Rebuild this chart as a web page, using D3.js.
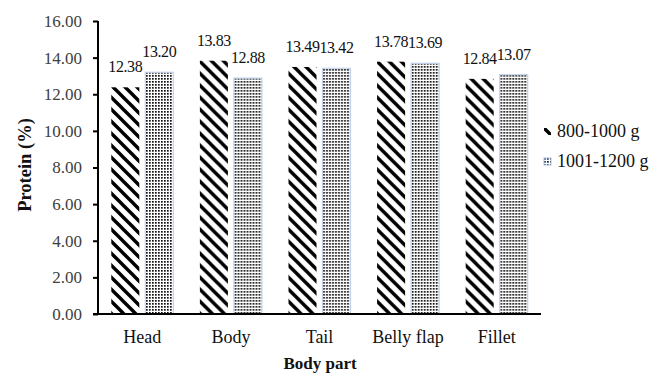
<!DOCTYPE html>
<html>
  <head>
    <title></title>
    <script src="https://cdnjs.cloudflare.com/ajax/libs/d3/7.8.5/d3.min.js"></script>
    <style type="text/css">
        html, body{
            padding: 0px;
            margin: 0px;
            background: #ffffff;
        }
        text{
            font-family: "Liberation Serif", "Times New Roman", serif;
        }
    </style>
  </head>
  <body>
    <div id="vis"></div>
    <script type="text/javascript">

        // data
        var categories = ["Head", "Body", "Tail", "Belly flap", "Fillet"]
        var series = ["800-1000 g", "1001-1200 g"]
        var small = [12.38, 13.83, 13.49, 13.78, 12.84]
        var large = [13.20, 12.88, 13.42, 13.69, 13.07]
        var yTicks = [0, 2, 4, 6, 8, 10, 12, 14, 16]

        var width = 668,
            height = 373

        var svg = d3.select("#vis").append("svg")
            .attr("width", width)
            .attr("height", height)

        // patterns
        var defs = svg.append("defs")

        var hatch = defs.append("pattern")
            .attr("id", "hatch")
            .attr("patternUnits", "userSpaceOnUse")
            .attr("width", 12)
            .attr("height", 12)
        hatch.append("rect").attr("width", 12).attr("height", 12).attr("fill", "#fff")
        hatch.append("path")
            .attr("d", "M-3,-3L15,15M-3,9L3,15M9,-3L15,3")
            .attr("stroke", "#000")
            .attr("stroke-width", 3.4)

        var dots = defs.append("pattern")
            .attr("id", "dots")
            .attr("patternUnits", "userSpaceOnUse")
            .attr("width", 3)
            .attr("height", 3)
        dots.append("rect").attr("width", 3).attr("height", 3).attr("fill", "#fff")
        dots.append("rect").attr("width", 1.7).attr("height", 1.7).attr("fill", "#111")

        var x = d3.scaleBand()
            .domain(categories)
            .range([98, 541])
            .paddingInner(0)
            .paddingOuter(0)

        var x1 = d3.scaleBand()
            .domain(series)
            .range([x.bandwidth() * 0.15, x.bandwidth() * 0.85])
            .paddingInner(0.176)

        var y = d3.scaleLinear()
            .domain([0, 16])
            .range([314, 21])

        var rows = categories.map(function(c, i){
            return {cat: c, values: [
                {s: series[0], v: small[i]},
                {s: series[1], v: large[i]}
            ]}
        })

        var groups = svg.append("g").selectAll("g")
            .data(rows)
            .enter().append("g")
            .attr("transform", function(d){ return "translate(" + x(d.cat) + ",0)" })

        groups.selectAll("rect")
            .data(function(d){ return d.values })
            .enter().append("rect")
            .attr("x", function(d){ return x1(d.s) })
            .attr("y", function(d){ return y(d.v) })
            .attr("width", x1.bandwidth())
            .attr("height", function(d){ return y(0) - y(d.v) })
            .attr("fill", function(d, i){ return i == 0 ? "url(#hatch)" : "url(#dots)" })
            .attr("stroke", function(d, i){ return i == 0 ? "none" : "#c3d3ee" })
            .attr("stroke-width", 1.2)

        groups.selectAll("text")
            .data(function(d){ return d.values })
            .enter().append("text")
            .attr("x", function(d){ return x1(d.s) + x1.bandwidth() / 2 })
            .attr("y", function(d){ return y(d.v) - 15 })
            .attr("text-anchor", "middle")
            .attr("font-size", 16)
            .attr("letter-spacing", -0.4)
            .attr("fill", "#111")
            .text(function(d){ return d.v.toFixed(2) })

        // y axis
        var yAxis = svg.append("g")
            .attr("transform", "translate(98,0)")
            .call(d3.axisLeft(y).tickValues(yTicks).tickSize(5).tickFormat(d3.format(".2f")))
        yAxis.select(".domain").attr("stroke", "#000").attr("stroke-width", 2)
            .attr("d", "M0," + y(16) + "V" + y(0))
        yAxis.selectAll(".tick line").attr("stroke", "#000").attr("stroke-width", 2)
        yAxis.selectAll(".tick text")
            .attr("font-size", 17)
            .attr("fill", "#404040")
            .attr("x", -16)

        // x axis
        var xAxis = svg.append("g")
            .attr("transform", "translate(0,314)")
            .call(d3.axisBottom(x).tickSize(0))
        xAxis.select(".domain").attr("stroke", "#000").attr("stroke-width", 2)
            .attr("d", "M93,0H541")
        xAxis.selectAll(".tick text")
            .attr("font-size", 18)
            .attr("fill", "#111")
            .attr("y", 29)
            .attr("dy", 0)

        // axis titles
        svg.append("text")
            .attr("transform", "translate(31,165) rotate(-90)")
            .attr("text-anchor", "middle")
            .attr("font-size", 18.5)
            .attr("font-weight", "bold")
            .attr("fill", "#111")
            .text("Protein (%)")

        svg.append("text")
            .attr("x", 320)
            .attr("y", 369)
            .attr("text-anchor", "middle")
            .attr("font-size", 17)
            .attr("font-weight", "bold")
            .attr("fill", "#111")
            .text("Body part")

        // legend
        var legend = svg.append("g").selectAll("g")
            .data(series)
            .enter().append("g")
            .attr("transform", function(d, i){ return "translate(544," + (128 + i * 30) + ")" })

        legend.append("rect")
            .attr("width", 7)
            .attr("height", 7)
            .attr("fill", function(d, i){ return i == 0 ? "url(#hatch)" : "url(#dots)" })
            .attr("stroke", function(d, i){ return i == 0 ? "none" : "#a9c2ea" })
            .attr("stroke-width", 1)

        legend.append("text")
            .attr("x", 13)
            .attr("y", 9)
            .attr("font-size", 18)
            .attr("fill", "#111")
            .text(function(d){ return d })

    </script>
  </body>
</html>
